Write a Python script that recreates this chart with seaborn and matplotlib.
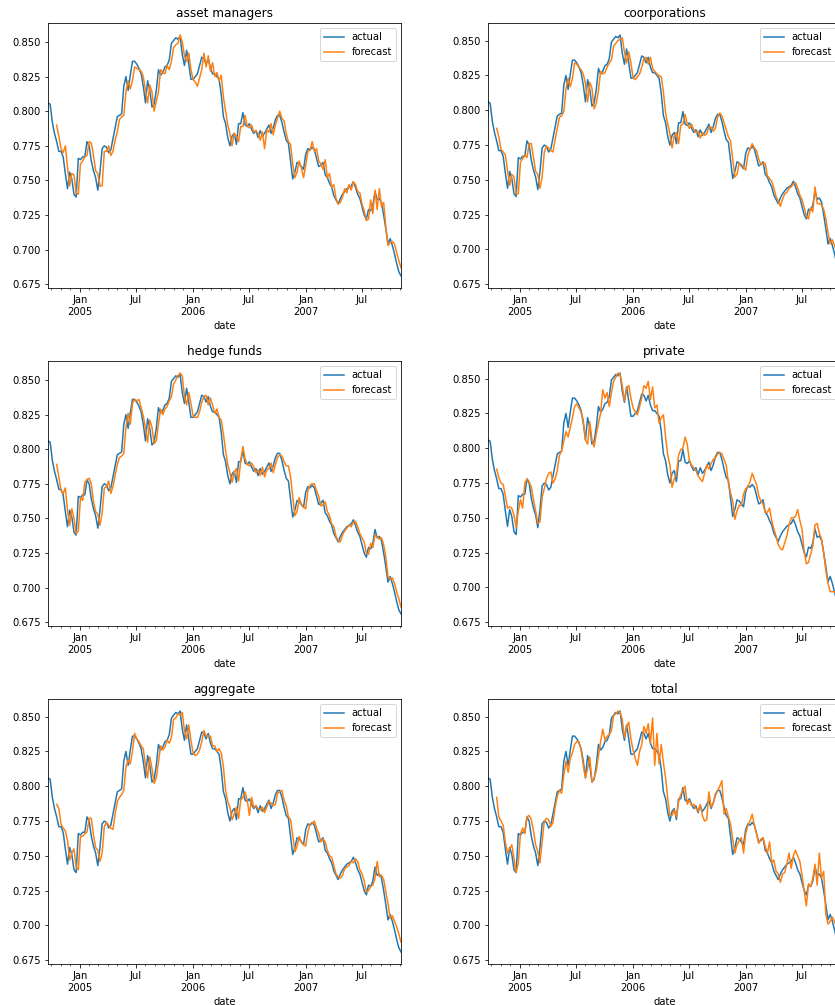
import matplotlib
matplotlib.use("Agg")
import matplotlib.pyplot as plt
import matplotlib.dates as mdates
from matplotlib.ticker import FuncFormatter
import numpy as np
import pandas as pd
import seaborn as sns

# Weekly observations, Sep 2004 - Nov 2007
dates = pd.date_range("2004-09-20", periods=164, freq="W-MON")
forecast_start = 4  # forecasts begin a few weeks after the first observation

actual = [
    0.806, 0.805, 0.792, 0.784, 0.778, 0.771, 0.771, 0.767, 0.755, 0.744,
    0.756, 0.751, 0.740, 0.738, 0.766, 0.765, 0.767, 0.767, 0.778, 0.775,
    0.764, 0.757, 0.752, 0.743, 0.756, 0.773, 0.775, 0.774, 0.770, 0.772,
    0.780, 0.788, 0.796, 0.797, 0.798, 0.818, 0.825, 0.815, 0.826, 0.836,
    0.836, 0.834, 0.831, 0.827, 0.818, 0.806, 0.822, 0.815, 0.803, 0.805,
    0.815, 0.830, 0.826, 0.828, 0.832, 0.833, 0.837, 0.849, 0.851, 0.853,
    0.852, 0.854, 0.841, 0.833, 0.844, 0.834, 0.823, 0.823, 0.825, 0.827,
    0.833, 0.839, 0.838, 0.834, 0.838, 0.831, 0.827, 0.827, 0.825, 0.823,
    0.812, 0.796, 0.791, 0.781, 0.775, 0.782, 0.784, 0.776, 0.791, 0.791,
    0.799, 0.790, 0.789, 0.791, 0.787, 0.784, 0.786, 0.781, 0.786, 0.782,
    0.784, 0.787, 0.790, 0.784, 0.788, 0.794, 0.797, 0.797, 0.792, 0.785,
    0.779, 0.777, 0.764, 0.751, 0.756, 0.763, 0.762, 0.760, 0.758, 0.769,
    0.773, 0.772, 0.774, 0.772, 0.766, 0.760, 0.761, 0.763, 0.754, 0.752,
    0.748, 0.745, 0.739, 0.736, 0.733, 0.737, 0.740, 0.742, 0.744, 0.745,
    0.746, 0.749, 0.745, 0.740, 0.737, 0.731, 0.725, 0.722, 0.729, 0.728,
    0.732, 0.742, 0.736, 0.737, 0.734, 0.725, 0.715, 0.704, 0.708, 0.703,
    0.697, 0.690, 0.684, 0.681,
]

fc_asset_managers = [
    0.790, 0.782, 0.773, 0.770, 0.775, 0.760, 0.746, 0.755, 0.754, 0.741,
    0.740, 0.762, 0.764, 0.767, 0.768, 0.778, 0.777, 0.768, 0.757, 0.755,
    0.746, 0.746, 0.771, 0.771, 0.775, 0.768, 0.771, 0.779, 0.785, 0.794,
    0.796, 0.797, 0.814, 0.822, 0.816, 0.822, 0.832, 0.831, 0.830, 0.829,
    0.825, 0.815, 0.806, 0.819, 0.814, 0.800, 0.807, 0.814, 0.830, 0.828,
    0.827, 0.833, 0.830, 0.836, 0.846, 0.848, 0.849, 0.855, 0.850, 0.840,
    0.836, 0.842, 0.830, 0.823, 0.821, 0.818, 0.824, 0.830, 0.842, 0.832,
    0.840, 0.829, 0.835, 0.825, 0.828, 0.822, 0.826, 0.810, 0.800, 0.790,
    0.784, 0.775, 0.784, 0.782, 0.778, 0.789, 0.789, 0.797, 0.789, 0.788,
    0.790, 0.785, 0.786, 0.784, 0.779, 0.785, 0.773, 0.786, 0.785, 0.791,
    0.783, 0.790, 0.795, 0.800, 0.795, 0.793, 0.784, 0.778, 0.776, 0.762,
    0.752, 0.756, 0.764, 0.759, 0.752, 0.761, 0.771, 0.772, 0.778, 0.771,
    0.773, 0.764, 0.762, 0.758, 0.765, 0.752, 0.755, 0.745, 0.747, 0.737,
    0.733, 0.734, 0.738, 0.744, 0.741, 0.747, 0.743, 0.749, 0.747, 0.742,
    0.741, 0.733, 0.728, 0.721, 0.722, 0.736, 0.726, 0.743, 0.729, 0.744,
    0.731, 0.734, 0.716, 0.703, 0.705, 0.706, 0.704, 0.698, 0.692, 0.687,
]

fc_coorporations = [
    0.787, 0.781, 0.772, 0.770, 0.768, 0.757, 0.746, 0.754, 0.752, 0.740,
    0.740, 0.763, 0.765, 0.768, 0.766, 0.776, 0.776, 0.766, 0.756, 0.754,
    0.744, 0.752, 0.770, 0.774, 0.773, 0.771, 0.770, 0.779, 0.787, 0.795,
    0.796, 0.799, 0.815, 0.823, 0.817, 0.823, 0.834, 0.833, 0.831, 0.829,
    0.826, 0.819, 0.806, 0.820, 0.816, 0.801, 0.805, 0.814, 0.828, 0.826,
    0.827, 0.831, 0.834, 0.836, 0.846, 0.848, 0.850, 0.851, 0.852, 0.842,
    0.834, 0.842, 0.834, 0.823, 0.822, 0.824, 0.826, 0.831, 0.837, 0.838,
    0.833, 0.838, 0.830, 0.828, 0.826, 0.825, 0.824, 0.813, 0.798, 0.790,
    0.783, 0.773, 0.782, 0.784, 0.776, 0.789, 0.790, 0.797, 0.790, 0.787,
    0.790, 0.786, 0.784, 0.785, 0.780, 0.784, 0.782, 0.783, 0.788, 0.788,
    0.785, 0.787, 0.795, 0.798, 0.796, 0.791, 0.786, 0.781, 0.778, 0.765,
    0.752, 0.754, 0.762, 0.761, 0.759, 0.757, 0.768, 0.772, 0.776, 0.773,
    0.771, 0.765, 0.761, 0.762, 0.762, 0.753, 0.751, 0.749, 0.744, 0.738,
    0.735, 0.731, 0.736, 0.740, 0.741, 0.744, 0.745, 0.747, 0.748, 0.744,
    0.739, 0.736, 0.730, 0.724, 0.722, 0.730, 0.727, 0.745, 0.733, 0.733,
    0.732, 0.729, 0.722, 0.712, 0.704, 0.707, 0.703, 0.698, 0.692, 0.686,
]

fc_hedge_funds = [
    0.789, 0.780, 0.770, 0.768, 0.772, 0.756, 0.745, 0.757, 0.750, 0.739,
    0.741, 0.765, 0.763, 0.776, 0.778, 0.779, 0.775, 0.762, 0.755, 0.753,
    0.745, 0.754, 0.772, 0.773, 0.777, 0.768, 0.773, 0.781, 0.789, 0.794,
    0.795, 0.797, 0.816, 0.826, 0.818, 0.833, 0.836, 0.835, 0.836, 0.830,
    0.824, 0.815, 0.805, 0.821, 0.816, 0.804, 0.806, 0.818, 0.829, 0.825,
    0.829, 0.831, 0.835, 0.838, 0.847, 0.850, 0.853, 0.855, 0.853, 0.838,
    0.832, 0.841, 0.833, 0.824, 0.823, 0.823, 0.827, 0.834, 0.838, 0.839,
    0.832, 0.837, 0.832, 0.826, 0.829, 0.823, 0.821, 0.811, 0.799, 0.789,
    0.783, 0.776, 0.783, 0.786, 0.777, 0.792, 0.802, 0.793, 0.789, 0.788,
    0.790, 0.787, 0.783, 0.785, 0.781, 0.787, 0.780, 0.785, 0.786, 0.790,
    0.783, 0.789, 0.794, 0.796, 0.795, 0.791, 0.788, 0.788, 0.780, 0.766,
    0.752, 0.755, 0.765, 0.760, 0.758, 0.757, 0.770, 0.774, 0.775, 0.775,
    0.770, 0.766, 0.759, 0.760, 0.762, 0.755, 0.752, 0.746, 0.744, 0.737,
    0.734, 0.733, 0.738, 0.741, 0.743, 0.745, 0.744, 0.747, 0.748, 0.744,
    0.739, 0.736, 0.733, 0.725, 0.724, 0.732, 0.729, 0.738, 0.737, 0.735,
    0.736, 0.731, 0.722, 0.708, 0.706, 0.707, 0.703, 0.697, 0.692, 0.686,
]

fc_private = [
    0.785, 0.779, 0.775, 0.774, 0.766, 0.757, 0.758, 0.757, 0.752, 0.743,
    0.755, 0.763, 0.757, 0.775, 0.778, 0.776, 0.772, 0.763, 0.755, 0.746,
    0.747, 0.765, 0.771, 0.778, 0.782, 0.783, 0.775, 0.778, 0.784, 0.795,
    0.798, 0.805, 0.812, 0.808, 0.815, 0.822, 0.830, 0.832, 0.829, 0.826,
    0.820, 0.806, 0.803, 0.819, 0.806, 0.801, 0.810, 0.818, 0.825, 0.842,
    0.836, 0.840, 0.830, 0.840, 0.848, 0.851, 0.854, 0.853, 0.845, 0.834,
    0.843, 0.845, 0.836, 0.829, 0.826, 0.824, 0.830, 0.836, 0.845, 0.843,
    0.848, 0.835, 0.844, 0.829, 0.831, 0.818, 0.822, 0.824, 0.808, 0.795,
    0.788, 0.772, 0.778, 0.781, 0.795, 0.799, 0.800, 0.808, 0.803, 0.791,
    0.788, 0.786, 0.784, 0.780, 0.778, 0.776, 0.782, 0.788, 0.785, 0.789,
    0.792, 0.793, 0.796, 0.797, 0.796, 0.792, 0.788, 0.775, 0.768, 0.762,
    0.749, 0.755, 0.759, 0.759, 0.767, 0.771, 0.772, 0.776, 0.782, 0.778,
    0.774, 0.766, 0.762, 0.760, 0.754, 0.754, 0.757, 0.748, 0.742, 0.737,
    0.731, 0.728, 0.727, 0.732, 0.737, 0.745, 0.750, 0.750, 0.751, 0.756,
    0.748, 0.742, 0.726, 0.717, 0.718, 0.724, 0.730, 0.745, 0.746, 0.739,
    0.735, 0.725, 0.712, 0.703, 0.697, 0.697, 0.697, 0.695, 0.694, 0.693,
]

fc_aggregate = [
    0.787, 0.784, 0.773, 0.770, 0.768, 0.761, 0.747, 0.752, 0.755, 0.742,
    0.740, 0.764, 0.764, 0.766, 0.767, 0.777, 0.777, 0.765, 0.756, 0.754,
    0.746, 0.752, 0.771, 0.774, 0.772, 0.770, 0.769, 0.780, 0.789, 0.792,
    0.794, 0.797, 0.814, 0.819, 0.816, 0.825, 0.838, 0.834, 0.832, 0.829,
    0.827, 0.815, 0.806, 0.821, 0.813, 0.802, 0.806, 0.817, 0.829, 0.826,
    0.828, 0.833, 0.831, 0.835, 0.848, 0.849, 0.852, 0.851, 0.853, 0.840,
    0.834, 0.844, 0.833, 0.824, 0.822, 0.823, 0.826, 0.832, 0.840, 0.836,
    0.836, 0.836, 0.829, 0.829, 0.825, 0.827, 0.824, 0.814, 0.797, 0.789,
    0.785, 0.776, 0.780, 0.785, 0.777, 0.790, 0.792, 0.796, 0.790, 0.779,
    0.792, 0.785, 0.786, 0.784, 0.783, 0.785, 0.781, 0.785, 0.789, 0.788,
    0.786, 0.787, 0.795, 0.796, 0.797, 0.790, 0.786, 0.778, 0.776, 0.765,
    0.753, 0.757, 0.764, 0.760, 0.758, 0.757, 0.767, 0.773, 0.773, 0.775,
    0.770, 0.766, 0.760, 0.762, 0.760, 0.754, 0.750, 0.749, 0.743, 0.737,
    0.735, 0.734, 0.736, 0.741, 0.742, 0.743, 0.746, 0.745, 0.748, 0.746,
    0.740, 0.737, 0.732, 0.724, 0.725, 0.728, 0.729, 0.734, 0.746, 0.735,
    0.736, 0.733, 0.724, 0.716, 0.705, 0.707, 0.703, 0.699, 0.694, 0.688,
]

fc_total = [
    0.792, 0.778, 0.775, 0.772, 0.760, 0.752, 0.755, 0.758, 0.748, 0.738,
    0.745, 0.766, 0.770, 0.766, 0.778, 0.779, 0.776, 0.768, 0.758, 0.753,
    0.745, 0.760, 0.775, 0.777, 0.776, 0.771, 0.774, 0.785, 0.793, 0.797,
    0.795, 0.808, 0.818, 0.810, 0.820, 0.824, 0.830, 0.832, 0.832, 0.826,
    0.815, 0.806, 0.813, 0.821, 0.803, 0.806, 0.811, 0.822, 0.832, 0.841,
    0.833, 0.836, 0.837, 0.840, 0.851, 0.852, 0.854, 0.853, 0.848, 0.835,
    0.843, 0.846, 0.834, 0.826, 0.820, 0.815, 0.825, 0.830, 0.843, 0.838,
    0.845, 0.831, 0.849, 0.815, 0.838, 0.816, 0.830, 0.817, 0.806, 0.791,
    0.779, 0.779, 0.783, 0.778, 0.789, 0.794, 0.797, 0.800, 0.787, 0.790,
    0.786, 0.787, 0.784, 0.782, 0.787, 0.779, 0.775, 0.776, 0.796, 0.785,
    0.788, 0.793, 0.797, 0.800, 0.804, 0.780, 0.784, 0.778, 0.773, 0.762,
    0.752, 0.758, 0.761, 0.763, 0.752, 0.766, 0.772, 0.775, 0.780, 0.772,
    0.766, 0.759, 0.762, 0.763, 0.757, 0.752, 0.760, 0.745, 0.747, 0.739,
    0.737, 0.731, 0.737, 0.738, 0.744, 0.752, 0.741, 0.750, 0.754, 0.750,
    0.746, 0.736, 0.725, 0.714, 0.730, 0.728, 0.734, 0.744, 0.729, 0.752,
    0.734, 0.739, 0.708, 0.701, 0.703, 0.706, 0.703, 0.699, 0.693, 0.688,
]

panel_titles = ["asset managers", "coorporations", "hedge funds",
                "private", "aggregate", "total"]
panel_forecasts = [fc_asset_managers, fc_coorporations, fc_hedge_funds,
                   fc_private, fc_aggregate, fc_total]

DPI = 72
W, H = 835, 1005
fig = plt.figure(figsize=(W / DPI, H / DPI), dpi=DPI)

col_left = [48 / W, 488 / W]
row_bottom = [1 - 288 / H, 1 - 626 / H, 1 - 964 / H]
ax_w, ax_h = 353 / W, 265 / H

blue, orange = "#1f77b4", "#ff7f0e"


def date_label(x, pos=None):
    d = mdates.num2date(x)
    if d.month == 1:
        return f"Jan\n{d.year}"
    return d.strftime("%b")


for i, (title, fc) in enumerate(zip(panel_titles, panel_forecasts)):
    r, c = divmod(i, 2)
    ax = fig.add_axes([col_left[c], row_bottom[r], ax_w, ax_h])
    sns.lineplot(x=dates, y=actual, ax=ax, color=blue, linewidth=1.5,
                 label="actual")
    sns.lineplot(x=dates[forecast_start:], y=fc, ax=ax, color=orange,
                 linewidth=1.5, label="forecast")
    ax.set_xlim(dates[0], dates[-1])
    ax.set_title(title, fontsize=12)
    ax.set_xlabel("date", fontsize=10)
    ax.set_ylabel("")
    ax.xaxis.set_major_locator(mdates.MonthLocator(bymonth=[1, 7]))
    ax.xaxis.set_minor_locator(mdates.MonthLocator())
    ax.xaxis.set_major_formatter(FuncFormatter(date_label))
    ax.yaxis.set_major_formatter(FuncFormatter(lambda v, p: f"{v:.3f}"))
    ax.tick_params(axis="both", labelsize=10)
    ax.legend(loc="upper right", fontsize=10)

fig.savefig("out.png", dpi=DPI)
